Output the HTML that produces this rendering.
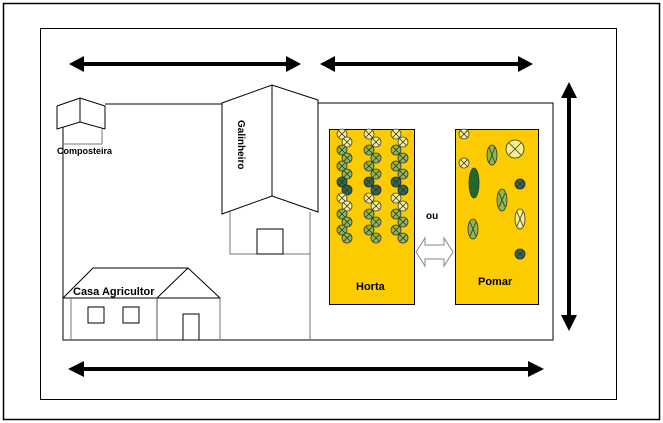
<!DOCTYPE html>
<html><head><meta charset="utf-8"><style>
html,body{margin:0;padding:0;background:#fff}
svg{display:block}
text{font-family:"Liberation Sans",Arial,sans-serif;font-weight:bold}
</style></head><body>
<svg width="663" height="423" viewBox="0 0 663 423" xmlns="http://www.w3.org/2000/svg">
<defs>
<g id="x"><line x1="-3.5" y1="-3.5" x2="3.5" y2="3.5" stroke="#333" stroke-width="0.8"/><line x1="-3.5" y1="3.5" x2="3.5" y2="-3.5" stroke="#333" stroke-width="0.8"/></g>
<g id="p"><circle r="5" fill="#f6f08a" stroke="#445" stroke-width="0.8"/><use href="#x"/></g>
<g id="g"><circle r="5" fill="#8db84a" stroke="#334" stroke-width="0.8"/><use href="#x"/></g>
<g id="d"><circle r="5" fill="#2f6a4a" stroke="#223" stroke-width="0.8"/><use href="#x"/></g>
</defs>
<rect x="3.5" y="3.5" width="656" height="416" fill="none" stroke="#000" stroke-width="1.5"/>
<rect x="40.5" y="28.5" width="576" height="371" fill="none" stroke="#000" stroke-width="1"/>

<g stroke="#000" stroke-width="1" fill="none">
<!-- composteira -->
<polyline points="63,127 63,340 553,340 553,103 318,103"/>
<polyline points="57,106 80,98 105,106 105,129"/>
<polyline points="57,106 57,129 80,122 105,129"/>
<line x1="80" y1="98" x2="80" y2="122"/>
<line x1="102" y1="129" x2="102" y2="144" stroke="#777"/>
<line x1="63" y1="144" x2="102" y2="144" stroke="#777"/>
<line x1="105" y1="104" x2="222" y2="104"/>
<!-- galinheiro -->
<polygon points="222,103 272,85 318,100 318,212 272,196 222,214" fill="#fff"/>
<line x1="272" y1="85" x2="272" y2="196"/>
<polyline points="230,212 230,254 310,254" stroke="#777"/>
<line x1="310" y1="212" x2="310" y2="340" stroke="#777"/>
<rect x="257" y="229" width="26" height="25"/>
<!-- casa -->
<polyline points="63,298 93,268 188,268 220,298 63,298"/>
<line x1="157" y1="298" x2="188" y2="268"/>
<line x1="71" y1="298" x2="71" y2="340" stroke="#777"/>
<line x1="157" y1="298" x2="157" y2="340" stroke="#555"/>
<line x1="220" y1="298" x2="220" y2="340" stroke="#777"/>
<rect x="88" y="307" width="16" height="16"/>
<rect x="123" y="307" width="16" height="16"/>
<rect x="183" y="314" width="16" height="26"/>
</g>
<text x="57" y="154" font-size="9">Composteira</text>
<text x="73" y="295" font-size="11">Casa Agricultor</text>
<text transform="translate(238,120) rotate(90)" font-size="10">Galinheiro</text>

<!-- boxes -->
<rect x="329.5" y="129.5" width="85" height="175" fill="#fccc00" stroke="#000"/>
<rect x="455.5" y="129.5" width="83" height="175" fill="#fccc00" stroke="#000"/>
<text x="356" y="290" font-size="11">Horta</text>
<text x="478" y="285" font-size="11">Pomar</text>
<text x="426" y="219" font-size="10">ou</text>

<!-- horta plants -->
<g>
<use href="#p" x="342" y="134"/><use href="#p" x="347" y="142"/><use href="#g" x="342" y="150"/><use href="#g" x="347" y="158"/><use href="#g" x="342" y="166"/><use href="#g" x="347" y="174"/><use href="#d" x="342" y="182"/><use href="#d" x="347" y="190"/><use href="#p" x="342" y="198"/><use href="#p" x="347" y="206"/><use href="#g" x="342" y="214"/><use href="#g" x="347" y="222"/><use href="#g" x="342" y="230"/><use href="#g" x="347" y="238"/>
<use href="#p" x="369" y="134"/><use href="#p" x="376" y="142"/><use href="#g" x="369" y="150"/><use href="#g" x="376" y="158"/><use href="#g" x="369" y="166"/><use href="#g" x="376" y="174"/><use href="#d" x="369" y="182"/><use href="#d" x="376" y="190"/><use href="#p" x="369" y="198"/><use href="#p" x="376" y="206"/><use href="#g" x="369" y="214"/><use href="#g" x="376" y="222"/><use href="#g" x="369" y="230"/><use href="#g" x="376" y="238"/>
<use href="#p" x="396" y="134"/><use href="#p" x="403" y="142"/><use href="#g" x="396" y="150"/><use href="#g" x="403" y="158"/><use href="#g" x="396" y="166"/><use href="#g" x="403" y="174"/><use href="#d" x="396" y="182"/><use href="#d" x="403" y="190"/><use href="#p" x="396" y="198"/><use href="#p" x="403" y="206"/><use href="#g" x="396" y="214"/><use href="#g" x="403" y="222"/><use href="#g" x="396" y="230"/><use href="#g" x="403" y="238"/>
</g>
<!-- pomar -->
<g stroke="#333" stroke-width="0.8">
<use href="#p" x="464" y="134"/><use href="#p" x="464" y="163"/>
<ellipse cx="492" cy="155" rx="5" ry="10" fill="#8db84a"/>
<ellipse cx="474" cy="183" rx="5" ry="15" fill="#1f6a2a"/>
<ellipse cx="502" cy="200" rx="5" ry="11" fill="#8db84a"/>
<ellipse cx="473" cy="229" rx="5" ry="10" fill="#8db84a"/>
<ellipse cx="520" cy="219" rx="5" ry="10" fill="#f6f08a"/>
<circle cx="515" cy="149" r="9" fill="#f6f08a"/>
<line x1="509" y1="143" x2="521" y2="155"/><line x1="509" y1="155" x2="521" y2="143"/>
<line x1="489" y1="147" x2="495" y2="163"/><line x1="495" y1="147" x2="489" y2="163"/>
<line x1="499" y1="193" x2="505" y2="207"/><line x1="505" y1="193" x2="499" y2="207"/>
<line x1="470" y1="222" x2="476" y2="236"/><line x1="476" y1="222" x2="470" y2="236"/>
<line x1="517" y1="212" x2="523" y2="226"/><line x1="523" y1="212" x2="517" y2="226"/>
</g>
<use href="#d" x="520" y="184"/><use href="#d" x="520" y="254"/>

<!-- hollow double arrow -->
<polygon points="416,252 425,238 425,245 444,245 444,238 453,252 444,266 444,259 425,259 425,266" fill="#fff" stroke="#888" stroke-width="1"/>

<!-- black arrows -->
<g fill="#000" stroke="#000">
<line x1="80" y1="64" x2="290" y2="64" stroke-width="4"/>
<polygon points="69,64 84,56 84,72" stroke="none"/><polygon points="301,64 286,56 286,72" stroke="none"/>
<line x1="330" y1="64" x2="522" y2="64" stroke-width="4"/>
<polygon points="320,64 335,56 335,72" stroke="none"/><polygon points="533,64 518,56 518,72" stroke="none"/>
<line x1="569" y1="92" x2="569" y2="320" stroke-width="4"/>
<polygon points="569,82 561,98 577,98" stroke="none"/><polygon points="569,331 561,315 577,315" stroke="none"/>
<line x1="80" y1="369" x2="532" y2="369" stroke-width="4"/>
<polygon points="68,369 84,361 84,377" stroke="none"/><polygon points="544,369 528,361 528,377" stroke="none"/>
</g>
</svg>
</body></html>
